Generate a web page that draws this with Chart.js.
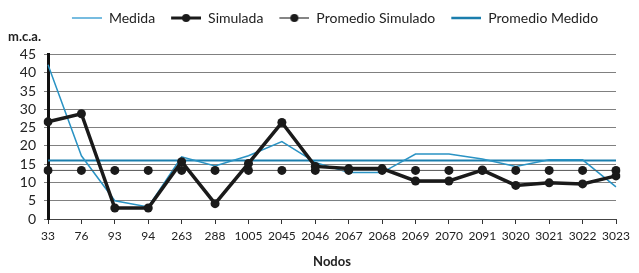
<!DOCTYPE html>
<html>
<head>
<meta charset="utf-8">
<script src="https://cdn.jsdelivr.net/npm/chart.js@4"></script>
<style>
  html, body { margin: 0; padding: 0; background: #fff; }
  #wrap { width: 639px; height: 273px; }
</style>
</head>
<body>
<div id="wrap"><canvas id="grafico"></canvas></div>
<script>
// datos
const nodos = ["33", "76", "93", "94", "263", "288", "1005", "2045", "2046", "2067", "2068", "2069", "2070", "2091", "3020", "3021", "3022", "3023"];
const medida = [42.2, 17.3, 5, 3.3, 17, 14.5, 17.3, 21.2, 15.5, 12.7, 12.7, 17.8, 17.8, 16.4, 14.4, 16.2, 16.2, 8.8];
const simulada = [26.6, 28.8, 3, 3, 15.7, 4.2, 15.2, 26.4, 14.4, 13.8, 13.8, 10.4, 10.4, 13.4, 9.2, 9.9, 9.6, 11.8];
const promedioSimulado = [13.3, 13.3, 13.3, 13.3, 13.3, 13.3, 13.3, 13.3, 13.3, 13.3, 13.3, 13.3, 13.3, 13.3, 13.3, 13.3, 13.3, 13.3];
const promedioMedido = [16, 16, 16, 16, 16, 16, 16, 16, 16, 16, 16, 16, 16, 16, 16, 16, 16, 16];
const yTicks = [0, 5, 10, 15, 20, 25, 30, 35, 40, 45];

const azulClaro = "#2a93c4";
const azulOscuro = "#1b7ead";
const fuente = "Lato, 'Open Sans', sans-serif";

// muestra de leyenda: linea (con punto opcional), con hueco transparente a la izquierda
function muestra(color, ancho, punto) {
  const c = document.createElement("canvas");
  c.width = 40; c.height = 12;
  const g = c.getContext("2d");
  g.strokeStyle = color;
  g.lineWidth = ancho;
  g.beginPath(); g.moveTo(10, 6); g.lineTo(40, 6); g.stroke();
  if (punto) {
    g.fillStyle = "#1a1a1a";
    g.beginPath(); g.arc(25, 6, 4, 0, Math.PI * 2); g.fill();
  }
  return c;
}

const muestras = [
  muestra("#4aa6d6", 1.5, false),
  muestra("#1a1a1a", 3, true),
  muestra("#333", 1.2, true),
  muestra(azulOscuro, 2.5, false)
];

// mueve la leyenda un poco a la derecha como en el original
const moverLeyenda = {
  id: "moverLeyenda",
  afterLayout(chart) {
    if (chart.legend) { chart.legend.left += 18; chart.legend.right += 18; }
  }
};

const ctx = document.getElementById("grafico").getContext("2d");
new Chart(ctx, {
  type: "line",
  plugins: [moverLeyenda],
  data: {
    labels: nodos,
    datasets: [
      {
        label: "Medida",
        data: medida,
        borderColor: azulClaro,
        borderWidth: 1.5,
        pointRadius: 0,
        tension: 0,
        order: 2
      },
      {
        label: "Simulada",
        data: simulada,
        borderColor: "#1a1a1a",
        backgroundColor: "#1a1a1a",
        borderWidth: 3.5,
        pointRadius: 4.5,
        pointBorderWidth: 0,
        tension: 0,
        order: 0
      },
      {
        label: "Promedio Simulado",
        data: promedioSimulado,
        borderColor: "#555",
        backgroundColor: "#1a1a1a",
        borderWidth: 1,
        pointRadius: 4.5,
        pointBorderWidth: 0,
        tension: 0,
        order: 1
      },
      {
        label: "Promedio Medido",
        data: promedioMedido,
        borderColor: azulOscuro,
        borderWidth: 2,
        pointRadius: 0,
        tension: 0,
        order: 3
      }
    ]
  },
  options: {
    responsive: true,
    maintainAspectRatio: false,
    animation: false,
    layout: { padding: { top: 5, left: 8, right: 23, bottom: 3 } },
    plugins: {
      legend: {
        display: true,
        position: "top",
        labels: {
          usePointStyle: true,
          pointStyleWidth: 40,
          padding: 6,
          color: "#222",
          font: { family: fuente, size: 14 },
          generateLabels: (chart) => chart.data.datasets.map((ds, i) => ({
            text: ds.label,
            datasetIndex: i,
            pointStyle: muestras[i],
            fontColor: "#222",
            lineWidth: 0,
            hidden: false
          }))
        }
      },
      title: {
        display: true,
        text: "m.c.a.",
        align: "start",
        weight: 500,
        color: "#222",
        font: { family: fuente, size: 13, weight: "bold" },
        padding: { top: -6, bottom: 10 }
      },
      tooltip: { enabled: false }
    },
    scales: {
      x: {
        type: "category",
        offset: false,
        grid: { drawOnChartArea: false, drawTicks: true, tickLength: 5, color: "#333" },
        border: { color: "#444", width: 1 },
        ticks: {
          autoSkip: false, maxRotation: 0, padding: 5,
          color: "#222", font: { family: fuente, size: 12 }
        },
        title: {
          display: true, text: "Nodos", color: "#222",
          font: { family: fuente, size: 13, weight: "bold" },
          padding: { top: 6, bottom: 0 }
        }
      },
      y: {
        min: 0,
        max: 45,
        afterBuildTicks: (axis) => { axis.ticks = yTicks.map(v => ({ value: v })); },
        afterFit: (axis) => { axis.width = 40; },
        grid: { color: "#808080", lineWidth: 1, tickLength: 4 },
        border: { color: "#111", width: 3 },
        ticks: { autoSkip: false, padding: 8, color: "#222", font: { family: fuente, size: 14 } }
      }
    }
  }
});
</script>
</body>
</html>
